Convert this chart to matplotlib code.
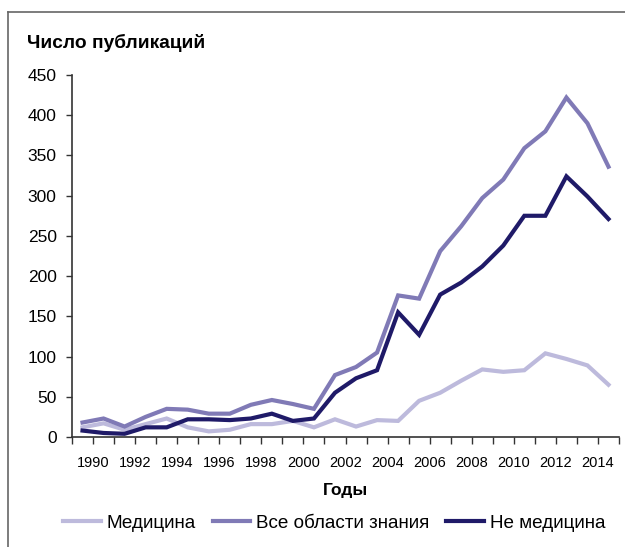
import matplotlib.pyplot as plt
import numpy as np
from matplotlib.lines import Line2D

plt.rcParams['font.family'] = ['Liberation Sans', 'DejaVu Sans']

# данные (по годам)
years = np.arange(1989, 2015)
medicina = [12, 17, 9, 16, 23, 12, 7, 9, 16, 16, 20, 12, 22, 13, 21, 20, 45, 55, 70, 84, 81, 83, 104, 97, 89, 65]
ne_medicina = [8, 5, 4, 12, 12, 22, 22, 21, 23, 29, 20, 23, 55, 73, 83, 155, 127, 177, 192, 212, 238, 275, 275, 324, 299, 271]
vse = [18, 23, 13, 25, 35, 34, 29, 29, 40, 46, 41, 35, 77, 87, 105, 176, 172, 231, 262, 297, 320, 359, 380, 422, 390, 336]

series_names = ['Медицина', 'Все области знания', 'Не медицина']
colors = ['#bdbadc', '#807ab6', '#1f1a68']

fig = plt.figure(figsize=(6.25, 5.47), dpi=100)
ax = fig.add_axes([72/625, 1 - 437/547, 547/625, 362/547])

x = years + 0.5
for vals, name, c in zip([medicina, vse, ne_medicina], series_names, colors):
    ax.plot(x, vals, color=c, lw=3.0, label=name, solid_joinstyle='miter')

ax.set_xlim(1989, 2015)
ax.set_ylim(0, 450)
ax.set_xticks(np.arange(1989, 2016))
ax.set_xticklabels([str(y) if y % 2 == 0 else '' for y in range(1989, 2016)], fontsize=10.5)
ax.set_yticks(np.arange(0, 451, 50))
ax.tick_params(axis='y', labelsize=12.5, length=4, width=1.0, pad=7, color='#333333')
ax.tick_params(axis='x', length=5, width=1.0, pad=9, color='#333333')

for s in ['top', 'right']:
    ax.spines[s].set_visible(False)
for s in ['left', 'bottom']:
    ax.spines[s].set_linewidth(1.2)
    ax.spines[s].set_color('#333333')

# подписи
fig.text(27/625, 1 - 48/547, 'Число публикаций', fontsize=13.8, fontweight='bold', va='baseline', ha='left')
fig.text(345/625, 1 - 491/547, 'Годы', fontsize=12.5, fontweight='bold', va='center', ha='center')

fig.legend(loc='center', bbox_to_anchor=(334/625, 1 - 523/547), ncol=3, frameon=False,
           fontsize=13.6, handlelength=2.0, handletextpad=0.3, columnspacing=0.9)

# рамка
fig.add_artist(Line2D([8/625, 1], [1 - 12/547, 1 - 12/547], color='#666666', lw=1.2))
fig.add_artist(Line2D([8/625, 8/625], [0, 1 - 12/547], color='#666666', lw=1.2))

fig.savefig('out.png', dpi=100)
